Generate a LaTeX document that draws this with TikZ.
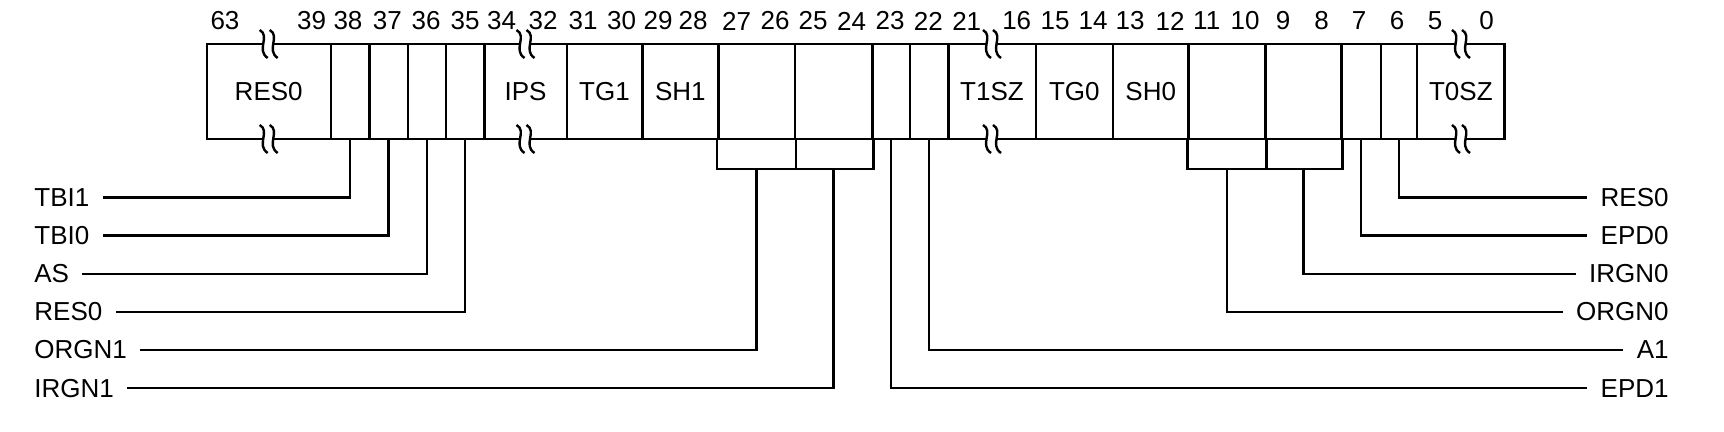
\documentclass[tikz,border=0pt]{standalone}
\usepackage{fontspec}
\setmainfont{Liberation Sans}
\usepackage{tikz}
\usetikzlibrary{
arrows.meta,
positioning,
calc
}

\begin{document}
\begin{tikzpicture}[
x=0.5pt, y=-0.5pt,
font=\fontsize{13pt}{15pt}\selectfont,
field/.style={
draw,
line width=1.2pt,
inner sep=0pt,
minimum height=47.5pt
},
bitnum/.style={inner sep=0pt},
lbl/.style={inner xsep=6.5pt, inner ysep=0pt},
wire/.style={line width=1.2pt},
cut/.pic={
\fill[white] (-5,-5) rectangle (5,5);
\draw[line width=1.2pt] (-9,-14) .. controls (2,-8) and (-13,6) .. (-1,14);
\draw[line width=1.2pt] (1,-14) .. controls (12,-8) and (-3,6) .. (9,14);
}
]
\useasboundingbox (0,0) rectangle (1724,432);

% register fields
\foreach \name/\l/\r/\txt in {
b63/206.7/330.7/RES0, b38/330.7/369.3/, b37/369.3/407.7/, b36/407.7/446/,
b35/446/484.3/, b34/484.3/566.7/IPS, b31/566.7/642.3/TG1, b29/642.3/718.3/SH1,
b27/718.3/795/, b25/795/872.3/, b23/872.3/910/, b22/910/948.3/,
b21/948.3/1035.7/T1SZ, b15/1035.7/1112.9/TG0, b13/1112.9/1188.6/SH0,
b11/1188.6/1265.4/, b9/1265.4/1341.4/, b7/1341.4/1380.7/, b6/1380.7/1417.1/,
b5/1417.1/1504.6/T0SZ}
\node[field, minimum width={(\r-\l)*0.5pt}] (\name) at ({(\l+\r)/2},91.5) {\txt};

% bit numbers
\foreach \n/\x in {
63/225, 39/311.7, 38/348, 37/387.3, 36/426, 35/465, 34/501.7, 32/543,
31/583, 30/621.7, 29/658, 28/693, 27/736.7, 26/775, 25/813, 24/851.7,
23/890, 22/928.3, 21/966.7, 16/1016.7, 15/1055, 14/1093, 13/1130,
12/1170, 11/1206.7, 10/1245, 9/1283, 8/1321.7, 7/1359, 6/1397, 5/1435, 0/1486.7}
\node[bitnum] (n\n) at (\x,21) {\n};

% breaks
\foreach \x in {268.7, 525.5, 992, 1461}{
\pic at (\x,44) {cut};
\pic at (\x,139) {cut};
}

% left labels
\node[lbl, anchor=west] (tbi1) at (21,197.5) {TBI1};
\node[lbl, anchor=west] (tbi0) at (21,235.7) {TBI0};
\node[lbl, anchor=west] (as) at (21,274) {AS};
\node[lbl, anchor=west] (res0l) at (21,312) {RES0};
\node[lbl, anchor=west] (orgn1) at (21,350) {ORGN1};
\node[lbl, anchor=west] (irgn1) at (21,388.3) {IRGN1};

% right labels
\node[lbl, anchor=east] (res0r) at (1682,197.5) {RES0};
\node[lbl, anchor=east] (epd0) at (1682,235.7) {EPD0};
\node[lbl, anchor=east] (irgn0) at (1682,274) {IRGN0};
\node[lbl, anchor=east] (orgn0) at (1682,312) {ORGN0};
\node[lbl, anchor=east] (a1) at (1682,350) {A1};
\node[lbl, anchor=east] (epd1) at (1682,388.3) {EPD1};

% brackets
\draw[wire] (b27.south west) -- ++(0,29) -| (b25.south east);
\draw[wire] (b27.south east) -- ++(0,29);
\draw[wire] (b11.south west) -- ++(0,29) -| (b9.south east);
\draw[wire] (b11.south east) -- ++(0,29);

% leaders
\draw[wire] (b38.south) |- (tbi1.east);
\draw[wire] (b37.south) |- (tbi0.east);
\draw[wire] (b36.south) |- (as.east);
\draw[wire] (b35.south) |- (res0l.east);
\draw[wire] ($(b27.south)+(0,29)$) |- (orgn1.east);
\draw[wire] ($(b25.south)+(0,29)$) |- (irgn1.east);
\draw[wire] (b23.south) |- (epd1.west);
\draw[wire] (b22.south) |- (a1.west);
\draw[wire] ($(b11.south)+(0,29)$) |- (orgn0.west);
\draw[wire] ($(b9.south)+(0,29)$) |- (irgn0.west);
\draw[wire] (b7.south) |- (epd0.west);
\draw[wire] (b6.south) |- (res0r.west);

\end{tikzpicture}
\end{document}
